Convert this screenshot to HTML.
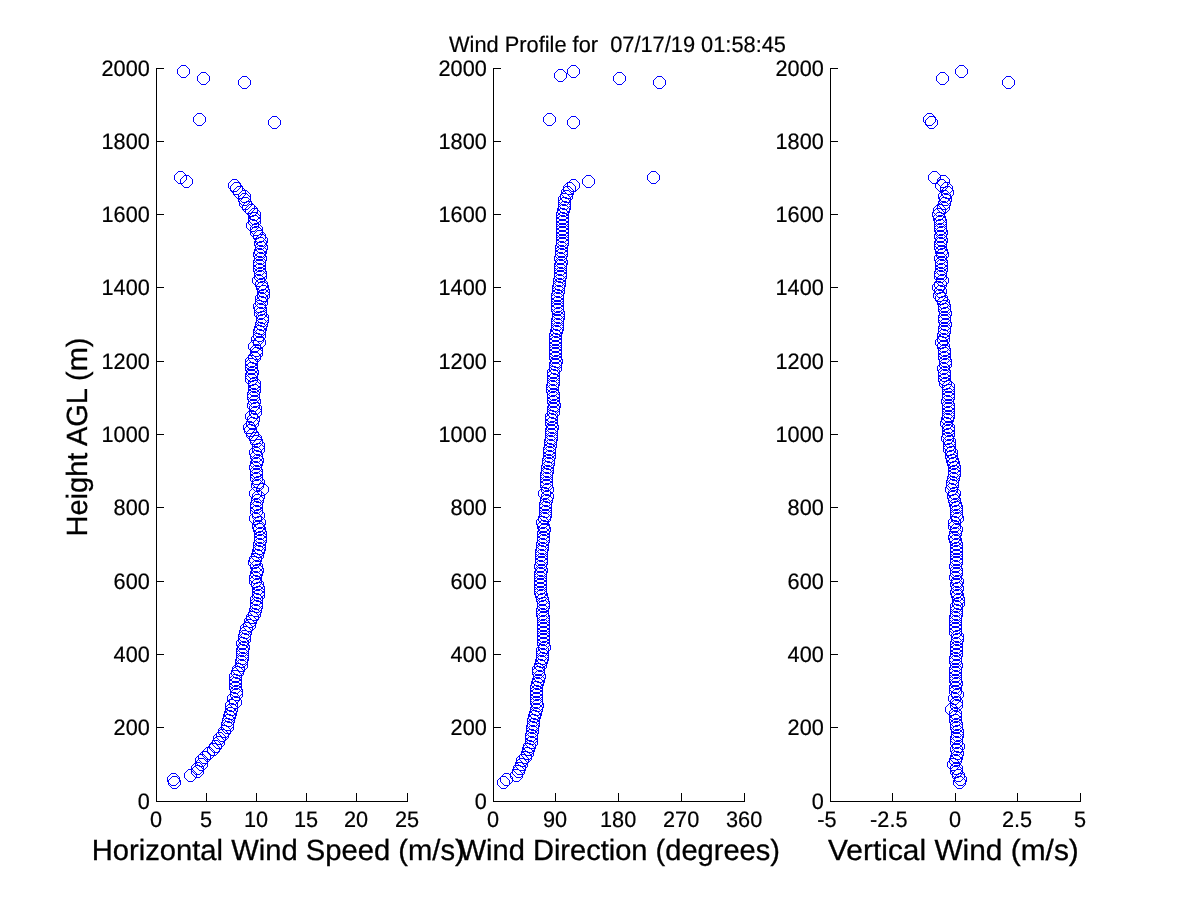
<!DOCTYPE html>
<html><head><meta charset="utf-8"><title>Wind Profile</title>
<style>
html,body{margin:0;padding:0;background:#fff;}
body{width:1200px;height:900px;overflow:hidden;}
svg{display:block;will-change:transform;text-rendering:geometricPrecision;font-family:"Liberation Sans",Arial,Helvetica,sans-serif;fill:#000;}
.ax{stroke:#000;stroke-width:1;fill:none;shape-rendering:crispEdges;}
.tk{font-size:21.7px;stroke:#000;stroke-width:0.2;}
.lb{font-size:29.2px;stroke:#000;stroke-width:0.3;}
.m{stroke:#0000ff;stroke-width:1;fill:none;stroke-linejoin:bevel;shape-rendering:crispEdges;}
</style></head><body>
<svg width="1200" height="900" viewBox="0 0 1200 900">
<rect x="0" y="0" width="1200" height="900" fill="#ffffff"/>
<text class="tk" transform="translate(449,51.8) scale(1,1.03)" textLength="337" lengthAdjust="spacingAndGlyphs" xml:space="preserve" style="white-space:pre">Wind Profile for  07/17/19 01:58:45</text>
<path class="ax" d="M156.5 68V801.5H408M156 801.5h8M156 727.5h8M156 654.5h8M156 581.5h8M156 507.5h8M156 434.5h8M156 361.5h8M156 287.5h8M156 214.5h8M156 141.5h8M156 68.5h8M156.5 802v-9M206.5 802v-9M256.5 802v-9M306.5 802v-9M356.5 802v-9M407.5 802v-9"/>
<g class="tk" text-anchor="end"><text transform="translate(149.8,808.7) scale(1,1.03)">0</text><text transform="translate(149.8,734.7) scale(1,1.03)">200</text><text transform="translate(149.8,661.7) scale(1,1.03)">400</text><text transform="translate(149.8,588.7) scale(1,1.03)">600</text><text transform="translate(149.8,514.7) scale(1,1.03)">800</text><text transform="translate(149.8,441.7) scale(1,1.03)">1000</text><text transform="translate(149.8,368.7) scale(1,1.03)">1200</text><text transform="translate(149.8,294.7) scale(1,1.03)">1400</text><text transform="translate(149.8,221.7) scale(1,1.03)">1600</text><text transform="translate(149.8,148.7) scale(1,1.03)">1800</text><text transform="translate(149.8,75.7) scale(1,1.03)">2000</text></g>
<g class="tk" text-anchor="middle"><text transform="translate(156.1,826.9) scale(1,1.03)">0</text><text transform="translate(206.1,826.9) scale(1,1.03)">5</text><text transform="translate(256.1,826.9) scale(1,1.03)">10</text><text transform="translate(306.1,826.9) scale(1,1.03)">15</text><text transform="translate(356.1,826.9) scale(1,1.03)">20</text><text transform="translate(407.1,826.9) scale(1,1.03)">25</text></g>
<text class="lb" x="91.7" y="860" textLength="373.1" lengthAdjust="spacingAndGlyphs">Horizontal Wind Speed (m/s)</text>
<path class="m" d="M172.5 776.5h4l4 4v4l-4 4h-4l-4-4v-4zM171.5 773.5h4l4 4v4l-4 4h-4l-4-4v-4zM188.5 769.5h4l4 4v4l-4 4h-4l-4-4v-4zM195.5 765.5h4l4 4v4l-4 4h-4l-4-4v-4zM195.5 762.5h4l4 4v4l-4 4h-4l-4-4v-4zM199.5 758.5h4l4 4v4l-4 4h-4l-4-4v-4zM199.5 754.5h4l4 4v4l-4 4h-4l-4-4v-4zM202.5 751.5h4l4 4v4l-4 4h-4l-4-4v-4zM206.5 747.5h4l4 4v4l-4 4h-4l-4-4v-4zM211.5 743.5h4l4 4v4l-4 4h-4l-4-4v-4zM213.5 740.5h4l4 4v4l-4 4h-4l-4-4v-4zM216.5 736.5h4l4 4v4l-4 4h-4l-4-4v-4zM217.5 732.5h4l4 4v4l-4 4h-4l-4-4v-4zM220.5 729.5h4l4 4v4l-4 4h-4l-4-4v-4zM222.5 725.5h4l4 4v4l-4 4h-4l-4-4v-4zM225.5 721.5h4l4 4v4l-4 4h-4l-4-4v-4zM225.5 718.5h4l4 4v4l-4 4h-4l-4-4v-4zM226.5 714.5h4l4 4v4l-4 4h-4l-4-4v-4zM227.5 710.5h4l4 4v4l-4 4h-4l-4-4v-4zM228.5 707.5h4l4 4v4l-4 4h-4l-4-4v-4zM229.5 703.5h4l4 4v4l-4 4h-4l-4-4v-4zM229.5 699.5h4l4 4v4l-4 4h-4l-4-4v-4zM233.5 696.5h4l4 4v4l-4 4h-4l-4-4v-4zM231.5 692.5h4l4 4v4l-4 4h-4l-4-4v-4zM234.5 688.5h4l4 4v4l-4 4h-4l-4-4v-4zM234.5 685.5h4l4 4v4l-4 4h-4l-4-4v-4zM233.5 681.5h4l4 4v4l-4 4h-4l-4-4v-4zM233.5 677.5h4l4 4v4l-4 4h-4l-4-4v-4zM233.5 674.5h4l4 4v4l-4 4h-4l-4-4v-4zM233.5 670.5h4l4 4v4l-4 4h-4l-4-4v-4zM235.5 666.5h4l4 4v4l-4 4h-4l-4-4v-4zM236.5 663.5h4l4 4v4l-4 4h-4l-4-4v-4zM239.5 659.5h4l4 4v4l-4 4h-4l-4-4v-4zM239.5 655.5h4l4 4v4l-4 4h-4l-4-4v-4zM240.5 652.5h4l4 4v4l-4 4h-4l-4-4v-4zM240.5 648.5h4l4 4v4l-4 4h-4l-4-4v-4zM240.5 644.5h4l4 4v4l-4 4h-4l-4-4v-4zM241.5 641.5h4l4 4v4l-4 4h-4l-4-4v-4zM240.5 637.5h4l4 4v4l-4 4h-4l-4-4v-4zM242.5 633.5h4l4 4v4l-4 4h-4l-4-4v-4zM242.5 630.5h4l4 4v4l-4 4h-4l-4-4v-4zM243.5 626.5h4l4 4v4l-4 4h-4l-4-4v-4zM244.5 622.5h4l4 4v4l-4 4h-4l-4-4v-4zM247.5 619.5h4l4 4v4l-4 4h-4l-4-4v-4zM248.5 615.5h4l4 4v4l-4 4h-4l-4-4v-4zM250.5 611.5h4l4 4v4l-4 4h-4l-4-4v-4zM252.5 608.5h4l4 4v4l-4 4h-4l-4-4v-4zM253.5 604.5h4l4 4v4l-4 4h-4l-4-4v-4zM254.5 600.5h4l4 4v4l-4 4h-4l-4-4v-4zM254.5 597.5h4l4 4v4l-4 4h-4l-4-4v-4zM254.5 593.5h4l4 4v4l-4 4h-4l-4-4v-4zM256.5 589.5h4l4 4v4l-4 4h-4l-4-4v-4zM256.5 586.5h4l4 4v4l-4 4h-4l-4-4v-4zM256.5 582.5h4l4 4v4l-4 4h-4l-4-4v-4zM255.5 578.5h4l4 4v4l-4 4h-4l-4-4v-4zM253.5 575.5h4l4 4v4l-4 4h-4l-4-4v-4zM253.5 571.5h4l4 4v4l-4 4h-4l-4-4v-4zM254.5 567.5h4l4 4v4l-4 4h-4l-4-4v-4zM255.5 564.5h4l4 4v4l-4 4h-4l-4-4v-4zM254.5 560.5h4l4 4v4l-4 4h-4l-4-4v-4zM252.5 556.5h4l4 4v4l-4 4h-4l-4-4v-4zM253.5 553.5h4l4 4v4l-4 4h-4l-4-4v-4zM255.5 549.5h4l4 4v4l-4 4h-4l-4-4v-4zM256.5 545.5h4l4 4v4l-4 4h-4l-4-4v-4zM257.5 542.5h4l4 4v4l-4 4h-4l-4-4v-4zM257.5 538.5h4l4 4v4l-4 4h-4l-4-4v-4zM258.5 534.5h4l4 4v4l-4 4h-4l-4-4v-4zM258.5 531.5h4l4 4v4l-4 4h-4l-4-4v-4zM258.5 527.5h4l4 4v4l-4 4h-4l-4-4v-4zM257.5 523.5h4l4 4v4l-4 4h-4l-4-4v-4zM256.5 520.5h4l4 4v4l-4 4h-4l-4-4v-4zM257.5 516.5h4l4 4v4l-4 4h-4l-4-4v-4zM253.5 512.5h4l4 4v4l-4 4h-4l-4-4v-4zM256.5 509.5h4l4 4v4l-4 4h-4l-4-4v-4zM254.5 505.5h4l4 4v4l-4 4h-4l-4-4v-4zM254.5 501.5h4l4 4v4l-4 4h-4l-4-4v-4zM254.5 498.5h4l4 4v4l-4 4h-4l-4-4v-4zM255.5 494.5h4l4 4v4l-4 4h-4l-4-4v-4zM256.5 490.5h4l4 4v4l-4 4h-4l-4-4v-4zM253.5 487.5h4l4 4v4l-4 4h-4l-4-4v-4zM260.5 483.5h4l4 4v4l-4 4h-4l-4-4v-4zM255.5 479.5h4l4 4v4l-4 4h-4l-4-4v-4zM256.5 476.5h4l4 4v4l-4 4h-4l-4-4v-4zM254.5 472.5h4l4 4v4l-4 4h-4l-4-4v-4zM254.5 468.5h4l4 4v4l-4 4h-4l-4-4v-4zM254.5 465.5h4l4 4v4l-4 4h-4l-4-4v-4zM253.5 461.5h4l4 4v4l-4 4h-4l-4-4v-4zM254.5 457.5h4l4 4v4l-4 4h-4l-4-4v-4zM255.5 454.5h4l4 4v4l-4 4h-4l-4-4v-4zM254.5 450.5h4l4 4v4l-4 4h-4l-4-4v-4zM253.5 446.5h4l4 4v4l-4 4h-4l-4-4v-4zM256.5 443.5h4l4 4v4l-4 4h-4l-4-4v-4zM256.5 439.5h4l4 4v4l-4 4h-4l-4-4v-4zM254.5 435.5h4l4 4v4l-4 4h-4l-4-4v-4zM253.5 432.5h4l4 4v4l-4 4h-4l-4-4v-4zM250.5 428.5h4l4 4v4l-4 4h-4l-4-4v-4zM248.5 424.5h4l4 4v4l-4 4h-4l-4-4v-4zM247.5 421.5h4l4 4v4l-4 4h-4l-4-4v-4zM250.5 417.5h4l4 4v4l-4 4h-4l-4-4v-4zM251.5 413.5h4l4 4v4l-4 4h-4l-4-4v-4zM249.5 410.5h4l4 4v4l-4 4h-4l-4-4v-4zM253.5 406.5h4l4 4v4l-4 4h-4l-4-4v-4zM253.5 402.5h4l4 4v4l-4 4h-4l-4-4v-4zM251.5 399.5h4l4 4v4l-4 4h-4l-4-4v-4zM252.5 395.5h4l4 4v4l-4 4h-4l-4-4v-4zM251.5 391.5h4l4 4v4l-4 4h-4l-4-4v-4zM251.5 388.5h4l4 4v4l-4 4h-4l-4-4v-4zM252.5 384.5h4l4 4v4l-4 4h-4l-4-4v-4zM252.5 380.5h4l4 4v4l-4 4h-4l-4-4v-4zM252.5 377.5h4l4 4v4l-4 4h-4l-4-4v-4zM249.5 373.5h4l4 4v4l-4 4h-4l-4-4v-4zM249.5 369.5h4l4 4v4l-4 4h-4l-4-4v-4zM250.5 366.5h4l4 4v4l-4 4h-4l-4-4v-4zM249.5 362.5h4l4 4v4l-4 4h-4l-4-4v-4zM249.5 358.5h4l4 4v4l-4 4h-4l-4-4v-4zM249.5 355.5h4l4 4v4l-4 4h-4l-4-4v-4zM252.5 351.5h4l4 4v4l-4 4h-4l-4-4v-4zM254.5 347.5h4l4 4v4l-4 4h-4l-4-4v-4zM254.5 344.5h4l4 4v4l-4 4h-4l-4-4v-4zM252.5 340.5h4l4 4v4l-4 4h-4l-4-4v-4zM257.5 336.5h4l4 4v4l-4 4h-4l-4-4v-4zM255.5 333.5h4l4 4v4l-4 4h-4l-4-4v-4zM257.5 329.5h4l4 4v4l-4 4h-4l-4-4v-4zM257.5 325.5h4l4 4v4l-4 4h-4l-4-4v-4zM258.5 322.5h4l4 4v4l-4 4h-4l-4-4v-4zM259.5 318.5h4l4 4v4l-4 4h-4l-4-4v-4zM260.5 314.5h4l4 4v4l-4 4h-4l-4-4v-4zM260.5 311.5h4l4 4v4l-4 4h-4l-4-4v-4zM258.5 307.5h4l4 4v4l-4 4h-4l-4-4v-4zM258.5 303.5h4l4 4v4l-4 4h-4l-4-4v-4zM257.5 300.5h4l4 4v4l-4 4h-4l-4-4v-4zM259.5 296.5h4l4 4v4l-4 4h-4l-4-4v-4zM259.5 292.5h4l4 4v4l-4 4h-4l-4-4v-4zM261.5 289.5h4l4 4v4l-4 4h-4l-4-4v-4zM261.5 285.5h4l4 4v4l-4 4h-4l-4-4v-4zM260.5 281.5h4l4 4v4l-4 4h-4l-4-4v-4zM259.5 278.5h4l4 4v4l-4 4h-4l-4-4v-4zM256.5 274.5h4l4 4v4l-4 4h-4l-4-4v-4zM258.5 270.5h4l4 4v4l-4 4h-4l-4-4v-4zM258.5 267.5h4l4 4v4l-4 4h-4l-4-4v-4zM257.5 263.5h4l4 4v4l-4 4h-4l-4-4v-4zM257.5 259.5h4l4 4v4l-4 4h-4l-4-4v-4zM257.5 256.5h4l4 4v4l-4 4h-4l-4-4v-4zM258.5 252.5h4l4 4v4l-4 4h-4l-4-4v-4zM257.5 248.5h4l4 4v4l-4 4h-4l-4-4v-4zM258.5 245.5h4l4 4v4l-4 4h-4l-4-4v-4zM259.5 241.5h4l4 4v4l-4 4h-4l-4-4v-4zM258.5 237.5h4l4 4v4l-4 4h-4l-4-4v-4zM259.5 234.5h4l4 4v4l-4 4h-4l-4-4v-4zM257.5 230.5h4l4 4v4l-4 4h-4l-4-4v-4zM254.5 226.5h4l4 4v4l-4 4h-4l-4-4v-4zM254.5 223.5h4l4 4v4l-4 4h-4l-4-4v-4zM250.5 219.5h4l4 4v4l-4 4h-4l-4-4v-4zM252.5 215.5h4l4 4v4l-4 4h-4l-4-4v-4zM252.5 212.5h4l4 4v4l-4 4h-4l-4-4v-4zM252.5 208.5h4l4 4v4l-4 4h-4l-4-4v-4zM249.5 204.5h4l4 4v4l-4 4h-4l-4-4v-4zM246.5 201.5h4l4 4v4l-4 4h-4l-4-4v-4zM243.5 197.5h4l4 4v4l-4 4h-4l-4-4v-4zM242.5 193.5h4l4 4v4l-4 4h-4l-4-4v-4zM242.5 190.5h4l4 4v4l-4 4h-4l-4-4v-4zM237.5 186.5h4l4 4v4l-4 4h-4l-4-4v-4zM234.5 182.5h4l4 4v4l-4 4h-4l-4-4v-4zM232.5 179.5h4l4 4v4l-4 4h-4l-4-4v-4zM184.5 175.5h4l4 4v4l-4 4h-4l-4-4v-4zM178.5 171.5h4l4 4v4l-4 4h-4l-4-4v-4zM272.5 116.5h4l4 4v4l-4 4h-4l-4-4v-4zM197.5 113.5h4l4 4v4l-4 4h-4l-4-4v-4zM242.5 76.5h4l4 4v4l-4 4h-4l-4-4v-4zM201.5 72.5h4l4 4v4l-4 4h-4l-4-4v-4zM181.5 65.5h4l4 4v4l-4 4h-4l-4-4v-4z"/>
<path class="ax" d="M493.5 68V801.5H745M493 801.5h8M493 727.5h8M493 654.5h8M493 581.5h8M493 507.5h8M493 434.5h8M493 361.5h8M493 287.5h8M493 214.5h8M493 141.5h8M493 68.5h8M493.5 802v-9M555.5 802v-9M618.5 802v-9M681.5 802v-9M744.5 802v-9"/>
<g class="tk" text-anchor="end"><text transform="translate(486.8,808.7) scale(1,1.03)">0</text><text transform="translate(486.8,734.7) scale(1,1.03)">200</text><text transform="translate(486.8,661.7) scale(1,1.03)">400</text><text transform="translate(486.8,588.7) scale(1,1.03)">600</text><text transform="translate(486.8,514.7) scale(1,1.03)">800</text><text transform="translate(486.8,441.7) scale(1,1.03)">1000</text><text transform="translate(486.8,368.7) scale(1,1.03)">1200</text><text transform="translate(486.8,294.7) scale(1,1.03)">1400</text><text transform="translate(486.8,221.7) scale(1,1.03)">1600</text><text transform="translate(486.8,148.7) scale(1,1.03)">1800</text><text transform="translate(486.8,75.7) scale(1,1.03)">2000</text></g>
<g class="tk" text-anchor="middle"><text transform="translate(493.1,826.9) scale(1,1.03)">0</text><text transform="translate(555.1,826.9) scale(1,1.03)">90</text><text transform="translate(618.1,826.9) scale(1,1.03)">180</text><text transform="translate(681.1,826.9) scale(1,1.03)">270</text><text transform="translate(744.1,826.9) scale(1,1.03)">360</text></g>
<text class="lb" x="458.7" y="860" textLength="321.2" lengthAdjust="spacingAndGlyphs">Wind Direction (degrees)</text>
<path class="m" d="M501.5 776.5h4l4 4v4l-4 4h-4l-4-4v-4zM504.5 773.5h4l4 4v4l-4 4h-4l-4-4v-4zM514.5 769.5h4l4 4v4l-4 4h-4l-4-4v-4zM516.5 765.5h4l4 4v4l-4 4h-4l-4-4v-4zM517.5 762.5h4l4 4v4l-4 4h-4l-4-4v-4zM519.5 758.5h4l4 4v4l-4 4h-4l-4-4v-4zM520.5 754.5h4l4 4v4l-4 4h-4l-4-4v-4zM523.5 751.5h4l4 4v4l-4 4h-4l-4-4v-4zM525.5 747.5h4l4 4v4l-4 4h-4l-4-4v-4zM526.5 743.5h4l4 4v4l-4 4h-4l-4-4v-4zM527.5 740.5h4l4 4v4l-4 4h-4l-4-4v-4zM529.5 736.5h4l4 4v4l-4 4h-4l-4-4v-4zM529.5 732.5h4l4 4v4l-4 4h-4l-4-4v-4zM529.5 729.5h4l4 4v4l-4 4h-4l-4-4v-4zM530.5 725.5h4l4 4v4l-4 4h-4l-4-4v-4zM530.5 721.5h4l4 4v4l-4 4h-4l-4-4v-4zM531.5 718.5h4l4 4v4l-4 4h-4l-4-4v-4zM531.5 714.5h4l4 4v4l-4 4h-4l-4-4v-4zM532.5 710.5h4l4 4v4l-4 4h-4l-4-4v-4zM533.5 707.5h4l4 4v4l-4 4h-4l-4-4v-4zM534.5 703.5h4l4 4v4l-4 4h-4l-4-4v-4zM535.5 699.5h4l4 4v4l-4 4h-4l-4-4v-4zM534.5 696.5h4l4 4v4l-4 4h-4l-4-4v-4zM534.5 692.5h4l4 4v4l-4 4h-4l-4-4v-4zM534.5 688.5h4l4 4v4l-4 4h-4l-4-4v-4zM534.5 685.5h4l4 4v4l-4 4h-4l-4-4v-4zM534.5 681.5h4l4 4v4l-4 4h-4l-4-4v-4zM535.5 677.5h4l4 4v4l-4 4h-4l-4-4v-4zM536.5 674.5h4l4 4v4l-4 4h-4l-4-4v-4zM537.5 670.5h4l4 4v4l-4 4h-4l-4-4v-4zM536.5 666.5h4l4 4v4l-4 4h-4l-4-4v-4zM536.5 663.5h4l4 4v4l-4 4h-4l-4-4v-4zM538.5 659.5h4l4 4v4l-4 4h-4l-4-4v-4zM539.5 655.5h4l4 4v4l-4 4h-4l-4-4v-4zM540.5 652.5h4l4 4v4l-4 4h-4l-4-4v-4zM540.5 648.5h4l4 4v4l-4 4h-4l-4-4v-4zM540.5 644.5h4l4 4v4l-4 4h-4l-4-4v-4zM542.5 641.5h4l4 4v4l-4 4h-4l-4-4v-4zM541.5 637.5h4l4 4v4l-4 4h-4l-4-4v-4zM541.5 633.5h4l4 4v4l-4 4h-4l-4-4v-4zM541.5 630.5h4l4 4v4l-4 4h-4l-4-4v-4zM541.5 626.5h4l4 4v4l-4 4h-4l-4-4v-4zM541.5 622.5h4l4 4v4l-4 4h-4l-4-4v-4zM541.5 619.5h4l4 4v4l-4 4h-4l-4-4v-4zM541.5 615.5h4l4 4v4l-4 4h-4l-4-4v-4zM541.5 611.5h4l4 4v4l-4 4h-4l-4-4v-4zM540.5 608.5h4l4 4v4l-4 4h-4l-4-4v-4zM540.5 604.5h4l4 4v4l-4 4h-4l-4-4v-4zM541.5 600.5h4l4 4v4l-4 4h-4l-4-4v-4zM541.5 597.5h4l4 4v4l-4 4h-4l-4-4v-4zM540.5 593.5h4l4 4v4l-4 4h-4l-4-4v-4zM539.5 589.5h4l4 4v4l-4 4h-4l-4-4v-4zM538.5 586.5h4l4 4v4l-4 4h-4l-4-4v-4zM538.5 582.5h4l4 4v4l-4 4h-4l-4-4v-4zM538.5 578.5h4l4 4v4l-4 4h-4l-4-4v-4zM538.5 575.5h4l4 4v4l-4 4h-4l-4-4v-4zM538.5 571.5h4l4 4v4l-4 4h-4l-4-4v-4zM538.5 567.5h4l4 4v4l-4 4h-4l-4-4v-4zM539.5 564.5h4l4 4v4l-4 4h-4l-4-4v-4zM538.5 560.5h4l4 4v4l-4 4h-4l-4-4v-4zM539.5 556.5h4l4 4v4l-4 4h-4l-4-4v-4zM539.5 553.5h4l4 4v4l-4 4h-4l-4-4v-4zM539.5 549.5h4l4 4v4l-4 4h-4l-4-4v-4zM539.5 545.5h4l4 4v4l-4 4h-4l-4-4v-4zM540.5 542.5h4l4 4v4l-4 4h-4l-4-4v-4zM540.5 538.5h4l4 4v4l-4 4h-4l-4-4v-4zM541.5 534.5h4l4 4v4l-4 4h-4l-4-4v-4zM541.5 531.5h4l4 4v4l-4 4h-4l-4-4v-4zM541.5 527.5h4l4 4v4l-4 4h-4l-4-4v-4zM542.5 523.5h4l4 4v4l-4 4h-4l-4-4v-4zM541.5 520.5h4l4 4v4l-4 4h-4l-4-4v-4zM540.5 516.5h4l4 4v4l-4 4h-4l-4-4v-4zM542.5 512.5h4l4 4v4l-4 4h-4l-4-4v-4zM543.5 509.5h4l4 4v4l-4 4h-4l-4-4v-4zM543.5 505.5h4l4 4v4l-4 4h-4l-4-4v-4zM543.5 501.5h4l4 4v4l-4 4h-4l-4-4v-4zM543.5 498.5h4l4 4v4l-4 4h-4l-4-4v-4zM544.5 494.5h4l4 4v4l-4 4h-4l-4-4v-4zM545.5 490.5h4l4 4v4l-4 4h-4l-4-4v-4zM542.5 487.5h4l4 4v4l-4 4h-4l-4-4v-4zM545.5 483.5h4l4 4v4l-4 4h-4l-4-4v-4zM544.5 479.5h4l4 4v4l-4 4h-4l-4-4v-4zM544.5 476.5h4l4 4v4l-4 4h-4l-4-4v-4zM544.5 472.5h4l4 4v4l-4 4h-4l-4-4v-4zM544.5 468.5h4l4 4v4l-4 4h-4l-4-4v-4zM545.5 465.5h4l4 4v4l-4 4h-4l-4-4v-4zM545.5 461.5h4l4 4v4l-4 4h-4l-4-4v-4zM546.5 457.5h4l4 4v4l-4 4h-4l-4-4v-4zM546.5 454.5h4l4 4v4l-4 4h-4l-4-4v-4zM547.5 450.5h4l4 4v4l-4 4h-4l-4-4v-4zM547.5 446.5h4l4 4v4l-4 4h-4l-4-4v-4zM547.5 443.5h4l4 4v4l-4 4h-4l-4-4v-4zM548.5 439.5h4l4 4v4l-4 4h-4l-4-4v-4zM548.5 435.5h4l4 4v4l-4 4h-4l-4-4v-4zM549.5 432.5h4l4 4v4l-4 4h-4l-4-4v-4zM549.5 428.5h4l4 4v4l-4 4h-4l-4-4v-4zM549.5 424.5h4l4 4v4l-4 4h-4l-4-4v-4zM550.5 421.5h4l4 4v4l-4 4h-4l-4-4v-4zM549.5 417.5h4l4 4v4l-4 4h-4l-4-4v-4zM549.5 413.5h4l4 4v4l-4 4h-4l-4-4v-4zM549.5 410.5h4l4 4v4l-4 4h-4l-4-4v-4zM551.5 406.5h4l4 4v4l-4 4h-4l-4-4v-4zM551.5 402.5h4l4 4v4l-4 4h-4l-4-4v-4zM552.5 399.5h4l4 4v4l-4 4h-4l-4-4v-4zM551.5 395.5h4l4 4v4l-4 4h-4l-4-4v-4zM551.5 391.5h4l4 4v4l-4 4h-4l-4-4v-4zM551.5 388.5h4l4 4v4l-4 4h-4l-4-4v-4zM550.5 384.5h4l4 4v4l-4 4h-4l-4-4v-4zM550.5 380.5h4l4 4v4l-4 4h-4l-4-4v-4zM551.5 377.5h4l4 4v4l-4 4h-4l-4-4v-4zM551.5 373.5h4l4 4v4l-4 4h-4l-4-4v-4zM551.5 369.5h4l4 4v4l-4 4h-4l-4-4v-4zM551.5 366.5h4l4 4v4l-4 4h-4l-4-4v-4zM553.5 362.5h4l4 4v4l-4 4h-4l-4-4v-4zM553.5 358.5h4l4 4v4l-4 4h-4l-4-4v-4zM554.5 355.5h4l4 4v4l-4 4h-4l-4-4v-4zM553.5 351.5h4l4 4v4l-4 4h-4l-4-4v-4zM553.5 347.5h4l4 4v4l-4 4h-4l-4-4v-4zM553.5 344.5h4l4 4v4l-4 4h-4l-4-4v-4zM553.5 340.5h4l4 4v4l-4 4h-4l-4-4v-4zM553.5 336.5h4l4 4v4l-4 4h-4l-4-4v-4zM553.5 333.5h4l4 4v4l-4 4h-4l-4-4v-4zM553.5 329.5h4l4 4v4l-4 4h-4l-4-4v-4zM554.5 325.5h4l4 4v4l-4 4h-4l-4-4v-4zM555.5 322.5h4l4 4v4l-4 4h-4l-4-4v-4zM555.5 318.5h4l4 4v4l-4 4h-4l-4-4v-4zM555.5 314.5h4l4 4v4l-4 4h-4l-4-4v-4zM556.5 311.5h4l4 4v4l-4 4h-4l-4-4v-4zM556.5 307.5h4l4 4v4l-4 4h-4l-4-4v-4zM555.5 303.5h4l4 4v4l-4 4h-4l-4-4v-4zM555.5 300.5h4l4 4v4l-4 4h-4l-4-4v-4zM555.5 296.5h4l4 4v4l-4 4h-4l-4-4v-4zM555.5 292.5h4l4 4v4l-4 4h-4l-4-4v-4zM555.5 289.5h4l4 4v4l-4 4h-4l-4-4v-4zM556.5 285.5h4l4 4v4l-4 4h-4l-4-4v-4zM556.5 281.5h4l4 4v4l-4 4h-4l-4-4v-4zM557.5 278.5h4l4 4v4l-4 4h-4l-4-4v-4zM557.5 274.5h4l4 4v4l-4 4h-4l-4-4v-4zM558.5 270.5h4l4 4v4l-4 4h-4l-4-4v-4zM558.5 267.5h4l4 4v4l-4 4h-4l-4-4v-4zM558.5 263.5h4l4 4v4l-4 4h-4l-4-4v-4zM558.5 259.5h4l4 4v4l-4 4h-4l-4-4v-4zM559.5 256.5h4l4 4v4l-4 4h-4l-4-4v-4zM558.5 252.5h4l4 4v4l-4 4h-4l-4-4v-4zM559.5 248.5h4l4 4v4l-4 4h-4l-4-4v-4zM559.5 245.5h4l4 4v4l-4 4h-4l-4-4v-4zM559.5 241.5h4l4 4v4l-4 4h-4l-4-4v-4zM560.5 237.5h4l4 4v4l-4 4h-4l-4-4v-4zM560.5 234.5h4l4 4v4l-4 4h-4l-4-4v-4zM560.5 230.5h4l4 4v4l-4 4h-4l-4-4v-4zM560.5 226.5h4l4 4v4l-4 4h-4l-4-4v-4zM560.5 223.5h4l4 4v4l-4 4h-4l-4-4v-4zM560.5 219.5h4l4 4v4l-4 4h-4l-4-4v-4zM560.5 215.5h4l4 4v4l-4 4h-4l-4-4v-4zM560.5 212.5h4l4 4v4l-4 4h-4l-4-4v-4zM560.5 208.5h4l4 4v4l-4 4h-4l-4-4v-4zM561.5 204.5h4l4 4v4l-4 4h-4l-4-4v-4zM562.5 201.5h4l4 4v4l-4 4h-4l-4-4v-4zM562.5 197.5h4l4 4v4l-4 4h-4l-4-4v-4zM562.5 193.5h4l4 4v4l-4 4h-4l-4-4v-4zM564.5 190.5h4l4 4v4l-4 4h-4l-4-4v-4zM565.5 186.5h4l4 4v4l-4 4h-4l-4-4v-4zM567.5 182.5h4l4 4v4l-4 4h-4l-4-4v-4zM571.5 179.5h4l4 4v4l-4 4h-4l-4-4v-4zM586.5 175.5h4l4 4v4l-4 4h-4l-4-4v-4zM651.5 171.5h4l4 4v4l-4 4h-4l-4-4v-4zM571.5 116.5h4l4 4v4l-4 4h-4l-4-4v-4zM547.5 113.5h4l4 4v4l-4 4h-4l-4-4v-4zM657.5 76.5h4l4 4v4l-4 4h-4l-4-4v-4zM617.5 72.5h4l4 4v4l-4 4h-4l-4-4v-4zM558.5 69.5h4l4 4v4l-4 4h-4l-4-4v-4zM571.5 65.5h4l4 4v4l-4 4h-4l-4-4v-4z"/>
<path class="ax" d="M830.5 68V801.5H1081M830 801.5h8M830 727.5h8M830 654.5h8M830 581.5h8M830 507.5h8M830 434.5h8M830 361.5h8M830 287.5h8M830 214.5h8M830 141.5h8M830 68.5h8M830.5 802v-9M892.5 802v-9M955.5 802v-9M1017.5 802v-9M1080.5 802v-9"/>
<g class="tk" text-anchor="end"><text transform="translate(823.8,808.7) scale(1,1.03)">0</text><text transform="translate(823.8,734.7) scale(1,1.03)">200</text><text transform="translate(823.8,661.7) scale(1,1.03)">400</text><text transform="translate(823.8,588.7) scale(1,1.03)">600</text><text transform="translate(823.8,514.7) scale(1,1.03)">800</text><text transform="translate(823.8,441.7) scale(1,1.03)">1000</text><text transform="translate(823.8,368.7) scale(1,1.03)">1200</text><text transform="translate(823.8,294.7) scale(1,1.03)">1400</text><text transform="translate(823.8,221.7) scale(1,1.03)">1600</text><text transform="translate(823.8,148.7) scale(1,1.03)">1800</text><text transform="translate(823.8,75.7) scale(1,1.03)">2000</text></g>
<g class="tk" text-anchor="middle"><text transform="translate(826.8,826.9) scale(1,1.03)">-5</text><text transform="translate(888.8,826.9) scale(1,1.03)">-2.5</text><text transform="translate(955.1,826.9) scale(1,1.03)">0</text><text transform="translate(1017.1,826.9) scale(1,1.03)">2.5</text><text transform="translate(1080.1,826.9) scale(1,1.03)">5</text></g>
<text class="lb" x="828.1" y="860" textLength="250.7" lengthAdjust="spacingAndGlyphs">Vertical Wind (m/s)</text>
<path class="m" d="M957.5 776.5h4l4 4v4l-4 4h-4l-4-4v-4zM958.5 773.5h4l4 4v4l-4 4h-4l-4-4v-4zM956.5 769.5h4l4 4v4l-4 4h-4l-4-4v-4zM954.5 765.5h4l4 4v4l-4 4h-4l-4-4v-4zM954.5 762.5h4l4 4v4l-4 4h-4l-4-4v-4zM951.5 758.5h4l4 4v4l-4 4h-4l-4-4v-4zM953.5 754.5h4l4 4v4l-4 4h-4l-4-4v-4zM954.5 751.5h4l4 4v4l-4 4h-4l-4-4v-4zM955.5 747.5h4l4 4v4l-4 4h-4l-4-4v-4zM954.5 743.5h4l4 4v4l-4 4h-4l-4-4v-4zM956.5 740.5h4l4 4v4l-4 4h-4l-4-4v-4zM954.5 736.5h4l4 4v4l-4 4h-4l-4-4v-4zM954.5 732.5h4l4 4v4l-4 4h-4l-4-4v-4zM955.5 729.5h4l4 4v4l-4 4h-4l-4-4v-4zM955.5 725.5h4l4 4v4l-4 4h-4l-4-4v-4zM954.5 721.5h4l4 4v4l-4 4h-4l-4-4v-4zM954.5 718.5h4l4 4v4l-4 4h-4l-4-4v-4zM953.5 714.5h4l4 4v4l-4 4h-4l-4-4v-4zM953.5 710.5h4l4 4v4l-4 4h-4l-4-4v-4zM953.5 707.5h4l4 4v4l-4 4h-4l-4-4v-4zM949.5 703.5h4l4 4v4l-4 4h-4l-4-4v-4zM954.5 699.5h4l4 4v4l-4 4h-4l-4-4v-4zM954.5 696.5h4l4 4v4l-4 4h-4l-4-4v-4zM952.5 692.5h4l4 4v4l-4 4h-4l-4-4v-4zM955.5 688.5h4l4 4v4l-4 4h-4l-4-4v-4zM953.5 685.5h4l4 4v4l-4 4h-4l-4-4v-4zM953.5 681.5h4l4 4v4l-4 4h-4l-4-4v-4zM954.5 677.5h4l4 4v4l-4 4h-4l-4-4v-4zM953.5 674.5h4l4 4v4l-4 4h-4l-4-4v-4zM953.5 670.5h4l4 4v4l-4 4h-4l-4-4v-4zM953.5 666.5h4l4 4v4l-4 4h-4l-4-4v-4zM953.5 663.5h4l4 4v4l-4 4h-4l-4-4v-4zM954.5 659.5h4l4 4v4l-4 4h-4l-4-4v-4zM953.5 655.5h4l4 4v4l-4 4h-4l-4-4v-4zM953.5 652.5h4l4 4v4l-4 4h-4l-4-4v-4zM954.5 648.5h4l4 4v4l-4 4h-4l-4-4v-4zM954.5 644.5h4l4 4v4l-4 4h-4l-4-4v-4zM954.5 641.5h4l4 4v4l-4 4h-4l-4-4v-4zM954.5 637.5h4l4 4v4l-4 4h-4l-4-4v-4zM955.5 633.5h4l4 4v4l-4 4h-4l-4-4v-4zM955.5 630.5h4l4 4v4l-4 4h-4l-4-4v-4zM953.5 626.5h4l4 4v4l-4 4h-4l-4-4v-4zM953.5 622.5h4l4 4v4l-4 4h-4l-4-4v-4zM953.5 619.5h4l4 4v4l-4 4h-4l-4-4v-4zM953.5 615.5h4l4 4v4l-4 4h-4l-4-4v-4zM953.5 611.5h4l4 4v4l-4 4h-4l-4-4v-4zM954.5 608.5h4l4 4v4l-4 4h-4l-4-4v-4zM954.5 604.5h4l4 4v4l-4 4h-4l-4-4v-4zM954.5 600.5h4l4 4v4l-4 4h-4l-4-4v-4zM956.5 597.5h4l4 4v4l-4 4h-4l-4-4v-4zM956.5 593.5h4l4 4v4l-4 4h-4l-4-4v-4zM955.5 589.5h4l4 4v4l-4 4h-4l-4-4v-4zM954.5 586.5h4l4 4v4l-4 4h-4l-4-4v-4zM955.5 582.5h4l4 4v4l-4 4h-4l-4-4v-4zM954.5 578.5h4l4 4v4l-4 4h-4l-4-4v-4zM955.5 575.5h4l4 4v4l-4 4h-4l-4-4v-4zM953.5 571.5h4l4 4v4l-4 4h-4l-4-4v-4zM954.5 567.5h4l4 4v4l-4 4h-4l-4-4v-4zM954.5 564.5h4l4 4v4l-4 4h-4l-4-4v-4zM953.5 560.5h4l4 4v4l-4 4h-4l-4-4v-4zM954.5 556.5h4l4 4v4l-4 4h-4l-4-4v-4zM954.5 553.5h4l4 4v4l-4 4h-4l-4-4v-4zM954.5 549.5h4l4 4v4l-4 4h-4l-4-4v-4zM954.5 545.5h4l4 4v4l-4 4h-4l-4-4v-4zM954.5 542.5h4l4 4v4l-4 4h-4l-4-4v-4zM954.5 538.5h4l4 4v4l-4 4h-4l-4-4v-4zM953.5 534.5h4l4 4v4l-4 4h-4l-4-4v-4zM952.5 531.5h4l4 4v4l-4 4h-4l-4-4v-4zM953.5 527.5h4l4 4v4l-4 4h-4l-4-4v-4zM954.5 523.5h4l4 4v4l-4 4h-4l-4-4v-4zM952.5 520.5h4l4 4v4l-4 4h-4l-4-4v-4zM952.5 516.5h4l4 4v4l-4 4h-4l-4-4v-4zM955.5 512.5h4l4 4v4l-4 4h-4l-4-4v-4zM954.5 509.5h4l4 4v4l-4 4h-4l-4-4v-4zM954.5 505.5h4l4 4v4l-4 4h-4l-4-4v-4zM954.5 501.5h4l4 4v4l-4 4h-4l-4-4v-4zM953.5 498.5h4l4 4v4l-4 4h-4l-4-4v-4zM952.5 494.5h4l4 4v4l-4 4h-4l-4-4v-4zM951.5 490.5h4l4 4v4l-4 4h-4l-4-4v-4zM952.5 487.5h4l4 4v4l-4 4h-4l-4-4v-4zM949.5 483.5h4l4 4v4l-4 4h-4l-4-4v-4zM950.5 479.5h4l4 4v4l-4 4h-4l-4-4v-4zM950.5 476.5h4l4 4v4l-4 4h-4l-4-4v-4zM951.5 472.5h4l4 4v4l-4 4h-4l-4-4v-4zM952.5 468.5h4l4 4v4l-4 4h-4l-4-4v-4zM952.5 465.5h4l4 4v4l-4 4h-4l-4-4v-4zM952.5 461.5h4l4 4v4l-4 4h-4l-4-4v-4zM951.5 457.5h4l4 4v4l-4 4h-4l-4-4v-4zM950.5 454.5h4l4 4v4l-4 4h-4l-4-4v-4zM949.5 450.5h4l4 4v4l-4 4h-4l-4-4v-4zM949.5 446.5h4l4 4v4l-4 4h-4l-4-4v-4zM947.5 443.5h4l4 4v4l-4 4h-4l-4-4v-4zM947.5 439.5h4l4 4v4l-4 4h-4l-4-4v-4zM947.5 435.5h4l4 4v4l-4 4h-4l-4-4v-4zM945.5 432.5h4l4 4v4l-4 4h-4l-4-4v-4zM946.5 428.5h4l4 4v4l-4 4h-4l-4-4v-4zM946.5 424.5h4l4 4v4l-4 4h-4l-4-4v-4zM946.5 421.5h4l4 4v4l-4 4h-4l-4-4v-4zM944.5 417.5h4l4 4v4l-4 4h-4l-4-4v-4zM945.5 413.5h4l4 4v4l-4 4h-4l-4-4v-4zM946.5 410.5h4l4 4v4l-4 4h-4l-4-4v-4zM946.5 406.5h4l4 4v4l-4 4h-4l-4-4v-4zM946.5 402.5h4l4 4v4l-4 4h-4l-4-4v-4zM946.5 399.5h4l4 4v4l-4 4h-4l-4-4v-4zM945.5 395.5h4l4 4v4l-4 4h-4l-4-4v-4zM946.5 391.5h4l4 4v4l-4 4h-4l-4-4v-4zM946.5 388.5h4l4 4v4l-4 4h-4l-4-4v-4zM946.5 384.5h4l4 4v4l-4 4h-4l-4-4v-4zM946.5 380.5h4l4 4v4l-4 4h-4l-4-4v-4zM943.5 377.5h4l4 4v4l-4 4h-4l-4-4v-4zM942.5 373.5h4l4 4v4l-4 4h-4l-4-4v-4zM942.5 369.5h4l4 4v4l-4 4h-4l-4-4v-4zM942.5 366.5h4l4 4v4l-4 4h-4l-4-4v-4zM941.5 362.5h4l4 4v4l-4 4h-4l-4-4v-4zM943.5 358.5h4l4 4v4l-4 4h-4l-4-4v-4zM943.5 355.5h4l4 4v4l-4 4h-4l-4-4v-4zM942.5 351.5h4l4 4v4l-4 4h-4l-4-4v-4zM942.5 347.5h4l4 4v4l-4 4h-4l-4-4v-4zM942.5 344.5h4l4 4v4l-4 4h-4l-4-4v-4zM941.5 340.5h4l4 4v4l-4 4h-4l-4-4v-4zM939.5 336.5h4l4 4v4l-4 4h-4l-4-4v-4zM941.5 333.5h4l4 4v4l-4 4h-4l-4-4v-4zM941.5 329.5h4l4 4v4l-4 4h-4l-4-4v-4zM942.5 325.5h4l4 4v4l-4 4h-4l-4-4v-4zM942.5 322.5h4l4 4v4l-4 4h-4l-4-4v-4zM943.5 318.5h4l4 4v4l-4 4h-4l-4-4v-4zM942.5 314.5h4l4 4v4l-4 4h-4l-4-4v-4zM942.5 311.5h4l4 4v4l-4 4h-4l-4-4v-4zM943.5 307.5h4l4 4v4l-4 4h-4l-4-4v-4zM942.5 303.5h4l4 4v4l-4 4h-4l-4-4v-4zM942.5 300.5h4l4 4v4l-4 4h-4l-4-4v-4zM941.5 296.5h4l4 4v4l-4 4h-4l-4-4v-4zM939.5 292.5h4l4 4v4l-4 4h-4l-4-4v-4zM937.5 289.5h4l4 4v4l-4 4h-4l-4-4v-4zM938.5 285.5h4l4 4v4l-4 4h-4l-4-4v-4zM936.5 281.5h4l4 4v4l-4 4h-4l-4-4v-4zM938.5 278.5h4l4 4v4l-4 4h-4l-4-4v-4zM940.5 274.5h4l4 4v4l-4 4h-4l-4-4v-4zM938.5 270.5h4l4 4v4l-4 4h-4l-4-4v-4zM938.5 267.5h4l4 4v4l-4 4h-4l-4-4v-4zM939.5 263.5h4l4 4v4l-4 4h-4l-4-4v-4zM939.5 259.5h4l4 4v4l-4 4h-4l-4-4v-4zM939.5 256.5h4l4 4v4l-4 4h-4l-4-4v-4zM938.5 252.5h4l4 4v4l-4 4h-4l-4-4v-4zM940.5 248.5h4l4 4v4l-4 4h-4l-4-4v-4zM939.5 245.5h4l4 4v4l-4 4h-4l-4-4v-4zM938.5 241.5h4l4 4v4l-4 4h-4l-4-4v-4zM938.5 237.5h4l4 4v4l-4 4h-4l-4-4v-4zM939.5 234.5h4l4 4v4l-4 4h-4l-4-4v-4zM938.5 230.5h4l4 4v4l-4 4h-4l-4-4v-4zM939.5 226.5h4l4 4v4l-4 4h-4l-4-4v-4zM938.5 223.5h4l4 4v4l-4 4h-4l-4-4v-4zM938.5 219.5h4l4 4v4l-4 4h-4l-4-4v-4zM938.5 215.5h4l4 4v4l-4 4h-4l-4-4v-4zM937.5 212.5h4l4 4v4l-4 4h-4l-4-4v-4zM936.5 208.5h4l4 4v4l-4 4h-4l-4-4v-4zM937.5 204.5h4l4 4v4l-4 4h-4l-4-4v-4zM941.5 201.5h4l4 4v4l-4 4h-4l-4-4v-4zM942.5 197.5h4l4 4v4l-4 4h-4l-4-4v-4zM943.5 193.5h4l4 4v4l-4 4h-4l-4-4v-4zM942.5 190.5h4l4 4v4l-4 4h-4l-4-4v-4zM945.5 186.5h4l4 4v4l-4 4h-4l-4-4v-4zM944.5 182.5h4l4 4v4l-4 4h-4l-4-4v-4zM939.5 179.5h4l4 4v4l-4 4h-4l-4-4v-4zM941.5 175.5h4l4 4v4l-4 4h-4l-4-4v-4zM932.5 171.5h4l4 4v4l-4 4h-4l-4-4v-4zM929.5 116.5h4l4 4v4l-4 4h-4l-4-4v-4zM927.5 113.5h4l4 4v4l-4 4h-4l-4-4v-4zM1006.5 76.5h4l4 4v4l-4 4h-4l-4-4v-4zM940.5 72.5h4l4 4v4l-4 4h-4l-4-4v-4zM959.5 65.5h4l4 4v4l-4 4h-4l-4-4v-4z"/>
<text class="lb" textLength="199" lengthAdjust="spacingAndGlyphs" transform="translate(87,536.5) rotate(-90)">Height AGL (m)</text>
</svg></body></html>
